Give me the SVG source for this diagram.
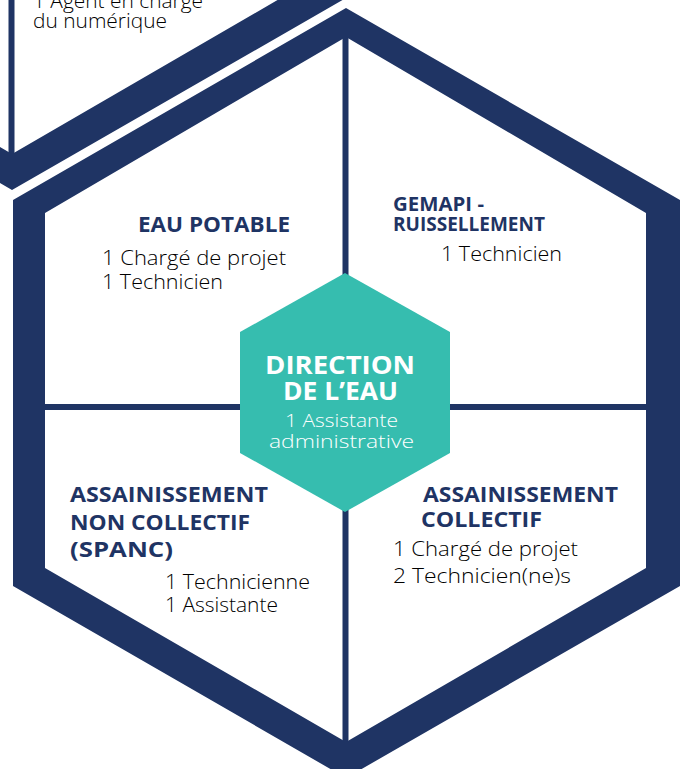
<svg xmlns="http://www.w3.org/2000/svg" width="685" height="769" viewBox="0 0 685 769">
<style>
.frame{fill:#1f3464;fill-rule:evenodd}
.bar{fill:#1f3464}
text{font-family:"Open Sans","Liberation Sans",sans-serif}
.title{font-weight:700;fill:#1f3464}
.body{font-weight:300;fill:#000000;font-size:20px}
.ctitle{font-weight:700;fill:#ffffff;font-size:25px}
.cbody{font-weight:300;fill:#ffffff;font-size:19px}
</style>
<rect width="685" height="769" fill="#ffffff"/>
<defs>
<g id="hexFrame">
<path class="frame" d="M346,8 L680,200 L680,586 L346,778 L13,586 L13,200 Z M346,37 L45,213 L45,568 L346,742 L646,568 L646,213 Z"/>
<rect class="bar" x="342.5" y="37" width="6" height="705"/>
<rect class="bar" x="45" y="404" width="601" height="6"/>
</g>
</defs>
<g id="top-hex">
<use href="#hexFrame" transform="translate(-334,-588)"/>
<text class="body" x="33" y="8" textLength="170" lengthAdjust="spacingAndGlyphs">1 Agent en charge</text>
<text class="body" x="33" y="28" textLength="134" lengthAdjust="spacingAndGlyphs">du numérique</text>
</g>
<g id="main-hex">
<use href="#hexFrame"/>
</g>
<g id="eau-potable">
<text class="title" x="138" y="232" font-size="22" textLength="152" lengthAdjust="spacingAndGlyphs">EAU POTABLE</text>
<text class="body" x="102" y="265" textLength="184" lengthAdjust="spacingAndGlyphs">1 Chargé de projet</text>
<text class="body" x="102" y="289" textLength="121" lengthAdjust="spacingAndGlyphs">1 Technicien</text>
</g>
<g id="gemapi">
<text class="title" x="393" y="211" font-size="19" textLength="91" lengthAdjust="spacingAndGlyphs">GEMAPI -</text>
<text class="title" x="393" y="231" font-size="19" textLength="152" lengthAdjust="spacingAndGlyphs">RUISSELLEMENT</text>
<text class="body" x="441" y="261" textLength="121" lengthAdjust="spacingAndGlyphs">1 Technicien</text>
</g>
<g id="anc">
<text class="title" x="70" y="502" font-size="22" textLength="198" lengthAdjust="spacingAndGlyphs">ASSAINISSEMENT</text>
<text class="title" x="70" y="530" font-size="22" textLength="180" lengthAdjust="spacingAndGlyphs">NON COLLECTIF</text>
<text class="title" x="70" y="557" font-size="22" textLength="103" lengthAdjust="spacingAndGlyphs">(SPANC)</text>
<text class="body" x="165" y="589" textLength="145" lengthAdjust="spacingAndGlyphs">1 Technicienne</text>
<text class="body" x="165" y="612" textLength="113" lengthAdjust="spacingAndGlyphs">1 Assistante</text>
</g>
<g id="ac">
<text class="title" x="423" y="502" font-size="22" textLength="195" lengthAdjust="spacingAndGlyphs">ASSAINISSEMENT</text>
<text class="title" x="421" y="527" font-size="22" textLength="121" lengthAdjust="spacingAndGlyphs">COLLECTIF</text>
<text class="body" x="393" y="556" textLength="185" lengthAdjust="spacingAndGlyphs">1 Chargé de projet</text>
<text class="body" x="393" y="583" textLength="178" lengthAdjust="spacingAndGlyphs">2 Technicien(ne)s</text>
</g>
<g id="direction">
<polygon points="345,273 450,332 450,453 345,512 240,453 240,332" fill="#36bdaf"/>
<text class="ctitle" x="265" y="374" textLength="150" lengthAdjust="spacingAndGlyphs">DIRECTION</text>
<text class="ctitle" x="283" y="400" textLength="115" lengthAdjust="spacingAndGlyphs">DE L’EAU</text>
<text class="cbody" x="285" y="427" textLength="113" lengthAdjust="spacingAndGlyphs">1 Assistante</text>
<text class="cbody" x="269" y="448" textLength="145" lengthAdjust="spacingAndGlyphs">administrative</text>
</g>
</svg>
